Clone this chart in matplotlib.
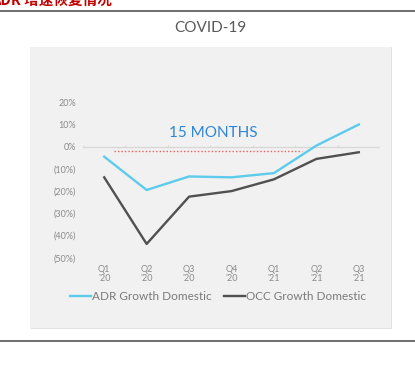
import matplotlib.pyplot as plt
from matplotlib.patches import Rectangle

quarters = ["Q1\n'20", "Q2\n'20", "Q3\n'20", "Q4\n'20", "Q1\n'21", "Q2\n'21", "Q3\n'21"]
adr_growth = [-4.5, -19.5, -13.4, -13.8, -11.9, 0.5, 10.0]
occ_growth = [-13.8, -43.8, -22.5, -20.0, -14.7, -5.5, -2.5]
y_ticks = [20, 10, 0, -10, -20, -30, -40, -50]
recovery_span = [0.24, 4.66]   # red dotted marker, in category units
recovery_level = -2.1

W, H = 415, 365
plt.rcParams['font.family'] = ['Lato', 'DejaVu Sans']
fig = plt.figure(figsize=(W / 100, H / 100), dpi=100)
fig.patch.set_facecolor('white')

# page furniture: cut-off heading, rules, grey panel
fig.text(112 / W, 1 - 5 / H, "ADR 增速恢复情况", ha='right', va='baseline',
         fontsize=10.5, fontweight='bold', color='#c00000',
         family=['Noto Sans CJK SC', 'DejaVu Sans'])
fig.add_artist(plt.Line2D([0, 1], [1 - 11 / H] * 2, color='#555555', lw=1.2))
fig.add_artist(plt.Line2D([0, 1], [1 - 341 / H] * 2, color='#555555', lw=1.2))
fig.add_artist(Rectangle((31 / W, 1 - 329 / H), 361 / W, 282 / H,
                         facecolor='#e2e2e2', edgecolor='none', zorder=-2))
fig.add_artist(Rectangle((30 / W, 1 - 328 / H), 361 / W, 281 / H,
                         facecolor='#f1f1f1', edgecolor='none', zorder=-1))
fig.text(210 / W, 1 - 28 / H, "COVID-19", ha='center', va='center',
         fontsize=11, color='#595959')

ax = fig.add_axes([83 / W, 1 - 257.7 / H, 297 / W, 155.4 / H])
ax.set_facecolor('none')
x = range(len(quarters))
ax.axhline(0, color='#d8d8d8', lw=1, zorder=1)
ax.vlines([i - 0.5 for i in range(len(quarters) + 1)], 0, 0.9,
          color='#d8d8d8', lw=0.8, zorder=1)
ax.plot(recovery_span, [recovery_level] * 2, color='#f25c5c', lw=1.0,
        ls=(0, (1, 1.5)), zorder=2)
ax.plot(x, adr_growth, color='#5dcbeb', lw=1.7, label='ADR Growth Domestic', zorder=3)
ax.plot(x, occ_growth, color='#505050', lw=1.7, label='OCC Growth Domestic', zorder=3)
ax.text(2.58, 6.2, "15 MONTHS", ha='center', va='center', fontsize=11, color='#2f86d6')

ax.set_xlim(-0.5, len(quarters) - 0.5)
ax.set_ylim(-50, 20)
ax.set_xticks(list(x))
ax.set_xticklabels(quarters, fontsize=6.5, color='#8a8a8a', linespacing=1.0)
ax.set_yticks(y_ticks)
ax.set_yticklabels([f"{v}%" if v >= 0 else f"({-v}%)" for v in y_ticks],
                   fontsize=6.5, color='#8a8a8a')
ax.tick_params(length=0, axis='y', pad=5)
ax.tick_params(length=0, axis='x', pad=5)
for s in ax.spines.values():
    s.set_visible(False)

fig.legend(loc='center', bbox_to_anchor=(218 / W, 1 - 297 / H), ncol=2, frameon=False,
           fontsize=8.5, handlelength=1.8, handletextpad=0.1, columnspacing=1.0,
           labelcolor='#7a7a7a')

fig.savefig('out.png', dpi=100)
